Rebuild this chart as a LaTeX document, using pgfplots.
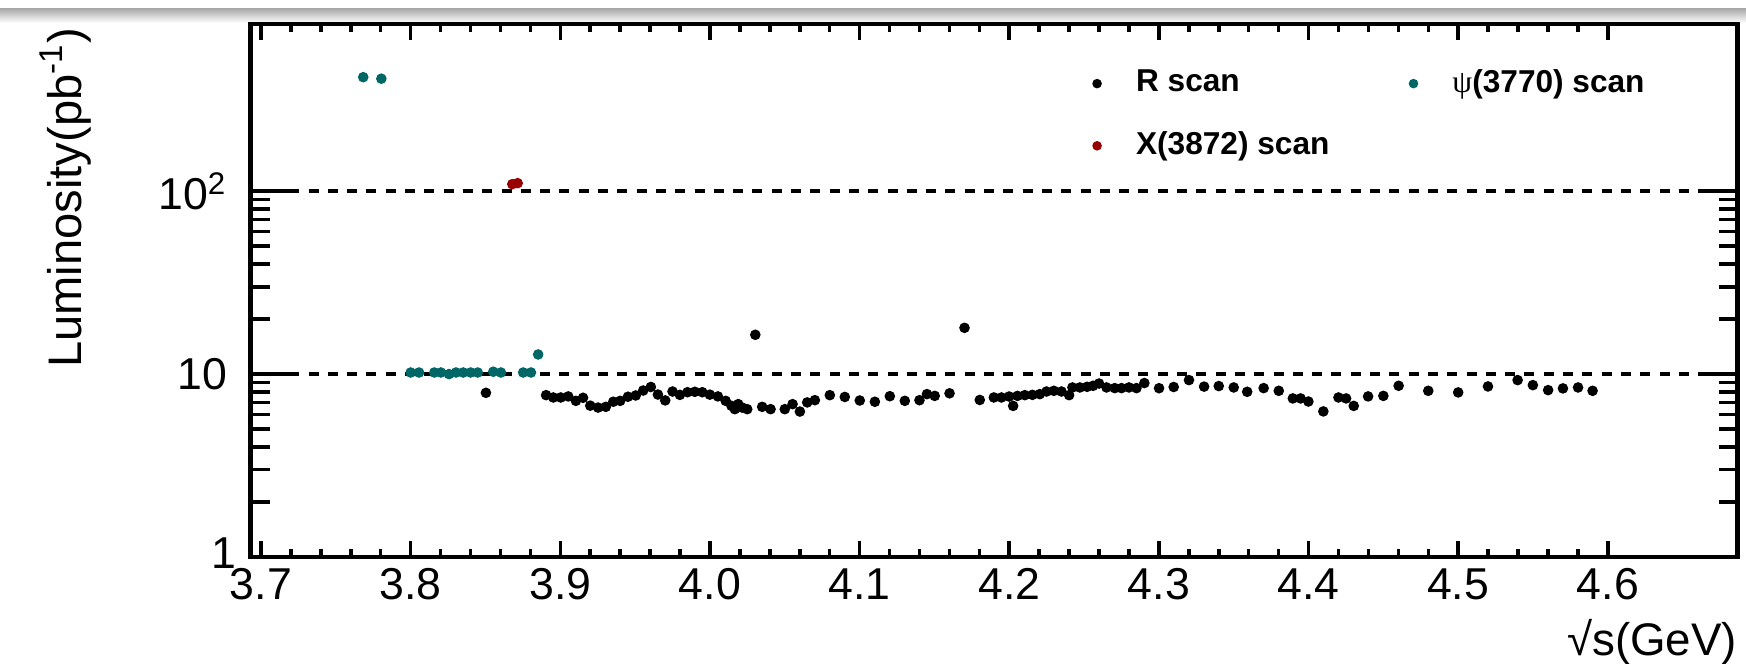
\documentclass[border=0pt]{standalone}
\usepackage{fontspec}
\setmainfont{Liberation Sans}
\newfontfamily\greekserif{Liberation Serif}
\usepackage{pgfplots}
\pgfplotsset{compat=1.18}
\definecolor{rteal}{RGB}{0,102,102}
\definecolor{rred}{RGB}{153,0,0}
\begin{document}
\begin{tikzpicture}
\path[use as bounding box] (0,0) rectangle (17.46cm,6.64cm);
\shade[top color=gray!65,bottom color=white] (0,6.55cm) rectangle (17.46cm,6.41cm);
\begin{axis}[
  at={(2.507cm,1.07cm)}, anchor=south west,
  scale only axis, width=14.87cm, height=5.33cm,
  xmin=3.6931, xmax=4.6868, ymin=1, ymax=820, ymode=log,
  xtick={3.7,3.8,3.9,4.0,4.1,4.2,4.3,4.4,4.5,4.6},
  minor x tick num=4,
  ytick={1,10,100}, yticklabels={\raisebox{0.8mm}{1}\hspace*{-0.9mm},10,10\textsuperscript{2}},
  tick align=inside,
  major tick length=3.8mm, minor tick length=1.9mm,
  xtick style={/pgfplots/major tick length=1.6mm,/pgfplots/minor tick length=0.8mm},
  every tick/.style={black, line width=1pt},
  axis line style={line width=1.3pt},
  /pgf/number format/assume math mode=true,
  tick label style={font=\fontsize{12.7}{15}\selectfont},
  xticklabel style={/pgf/number format/fixed,/pgf/number format/fixed zerofill,/pgf/number format/precision=1, anchor=base, yshift=-4.3mm},
  yticklabel style={anchor=east, inner sep=0pt, xshift=-2.3mm},
  xlabel={√s(GeV)},
  ylabel={Luminosity(pb\textsuperscript{-1})},
  label style={font=\fontsize{13}{15}\selectfont},
  ylabel style={font=\fontsize{13.4}{16}\selectfont},
  xlabel style={at={(axis description cs:1,-0.184)}, anchor=base east, inner sep=0pt},
  ylabel style={at={(axis description cs:-0.1245,0.9944)}, anchor=east, inner sep=0pt},
  legend columns=2,
  legend cell align=left,
  legend image code/.code={\path[draw=none,fill=none] (0cm,-0.1cm) rectangle (0.6cm,0.1cm); \draw[#1, mark size=1.15pt] plot coordinates {(0.3cm,0cm)};},
  legend style={draw=none, fill=none, inner sep=0pt, outer sep=0pt, row sep=3.4mm,
    font=\fontsize{9}{11}\selectfont\bfseries,
    nodes={inner sep=0pt},
    /tikz/every odd column/.append style={column sep=0.9mm},
    /tikz/every even column/.append style={column sep=5.4mm},
    at={(axis description cs:0.549,0.9146)}, anchor=north west},
]
\addplot[black, line width=1.1pt, dash pattern=on 1mm off 0.93mm, forget plot] coordinates {(3.6931,10) (4.6868,10)};
\addplot[black, line width=1.1pt, dash pattern=on 1mm off 0.93mm, forget plot] coordinates {(3.6931,100) (4.6868,100)};
\addplot[only marks, mark=*, mark size=1.3pt, mark options={fill=black, draw=black}] coordinates {
(3.8503,7.9) (3.8905,7.67) (3.8953,7.45) (3.9003,7.45) (3.9053,7.55) (3.9104,7.14)
(3.9152,7.42) (3.9200,6.72) (3.9252,6.56) (3.9304,6.62) (3.9354,7.06) (3.9400,7.14)
(3.9452,7.52) (3.9504,7.64) (3.9554,8.13) (3.9605,8.5) (3.9652,7.73) (3.9701,7.18)
(3.9750,8.03) (3.9799,7.7) (3.9850,7.96) (3.9899,8.0) (3.9949,7.96) (3.9999,7.72)
(4.0053,7.55) (4.0105,7.14) (4.0144,6.7) (4.0166,6.43) (4.0189,6.85) (4.0215,6.56)
(4.0249,6.43) (4.0303,16.4) (4.0349,6.62) (4.0405,6.43) (4.0500,6.43) (4.0552,6.85)
(4.0601,6.24) (4.0650,7.0) (4.0701,7.2) (4.0801,7.67) (4.0901,7.5) (4.1001,7.17)
(4.1102,7.06) (4.1202,7.57) (4.1302,7.14) (4.1400,7.2) (4.1450,7.77) (4.1502,7.6)
(4.1601,7.85) (4.1701,17.9) (4.1803,7.22) (4.1897,7.45) (4.1948,7.45) (4.1999,7.54)
(4.2026,6.7) (4.2055,7.6) (4.2104,7.67) (4.2155,7.7) (4.2204,7.77) (4.2249,8.03)
(4.2298,8.1) (4.2349,8.03) (4.2400,7.67) (4.2422,8.45) (4.2472,8.45) (4.2520,8.52)
(4.2560,8.63) (4.2600,8.88) (4.2650,8.45) (4.2705,8.38) (4.2750,8.38) (4.2800,8.45)
(4.2850,8.38) (4.2903,8.93) (4.3001,8.37) (4.3099,8.5) (4.3201,9.27) (4.3302,8.54)
(4.3400,8.6) (4.3500,8.45) (4.3590,8.0) (4.3700,8.38) (4.3801,8.1) (4.3895,7.36)
(4.3947,7.36) (4.3999,7.08) (4.4099,6.25) (4.4200,7.45) (4.4251,7.36) (4.4302,6.7)
(4.4398,7.55) (4.4500,7.6) (4.4602,8.63) (4.4800,8.1) (4.5000,7.94) (4.5199,8.56)
(4.5397,9.27) (4.5499,8.7) (4.5601,8.17) (4.5700,8.35) (4.5801,8.45) (4.5898,8.1)
};
\addlegendentry{R scan}
\addplot[only marks, mark=*, mark size=1.3pt, mark options={fill=rteal, draw=rteal}] coordinates {
(3.7683,420) (3.7804,412)
(3.8000,10.2) (3.8056,10.2) (3.8158,10.2) (3.8202,10.2) (3.8256,10.0) (3.8303,10.2)
(3.8351,10.2) (3.8401,10.2) (3.8448,10.2) (3.8552,10.3) (3.8603,10.2) (3.8752,10.2)
(3.8804,10.2) (3.8852,12.8)
};
\addlegendentry{{\greekserif\mdseries ψ}(3770) scan}
\addplot[only marks, mark=*, mark size=1.3pt, mark options={fill=rred, draw=rred}] coordinates {
(3.8679,109.2) (3.8715,110.6)
};
\addlegendentry{X(3872) scan}
\end{axis}
\end{tikzpicture}
\end{document}
